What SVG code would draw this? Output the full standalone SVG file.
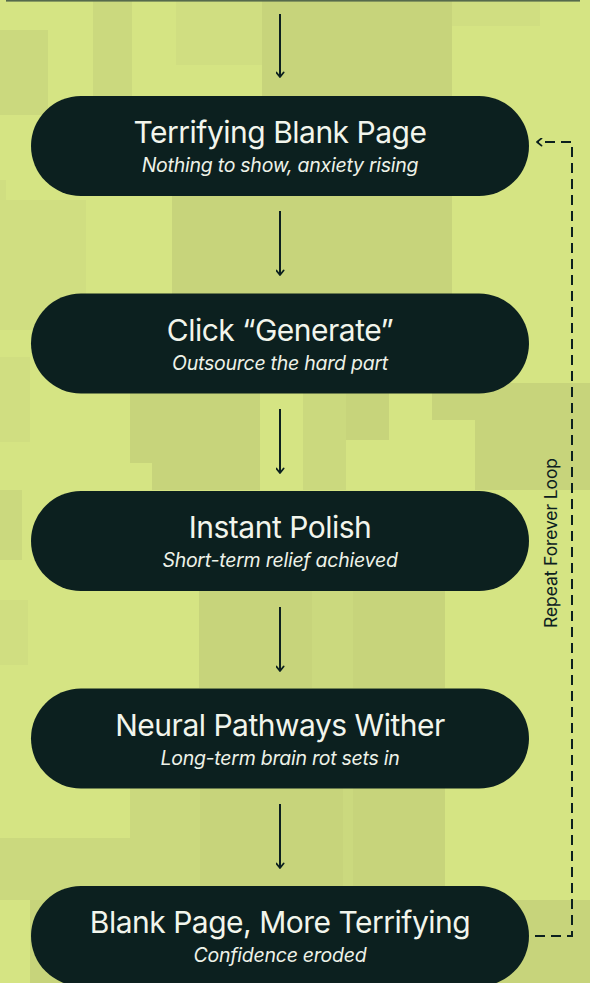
<svg xmlns="http://www.w3.org/2000/svg" width="590" height="983" viewBox="0 0 590 983">
  <style>
    .bg0 { fill: #d5e483; }
    .d1 { fill: #d0de81; }
    .d2 { fill: #cbd97e; }
    .d3 { fill: #c7d47b; }
    .pill { fill: #0c201f; }
    .title { font-family: Inter, "Noto Sans", "Liberation Sans", sans-serif; font-size: 30px; font-weight: 400; letter-spacing: -0.5px; fill: #f2f5ec; text-anchor: middle; }
    .sub { font-family: Inter, "Noto Sans", "Liberation Sans", sans-serif; font-size: 19.5px; font-style: italic; letter-spacing: -0.25px; fill: #eef2e8; text-anchor: middle; }
    .flow { stroke: #0c201f; stroke-width: 2; fill: none; }
    .loop { stroke: #0c201f; stroke-width: 2; fill: none; stroke-dasharray: 10 6; }
    .lbl { font-family: Inter, "Noto Sans", "Liberation Sans", sans-serif; font-size: 17.5px; letter-spacing: -0.1px; fill: #0c201f; text-anchor: middle; }
  </style>
  <defs>
    <marker id="ah" viewBox="0 0 10 10" refX="9" refY="5" markerWidth="9" markerHeight="9" markerUnits="userSpaceOnUse" orient="auto">
      <path d="M4,1 L9,5 L4,9" fill="none" stroke="#0c201f" stroke-width="2" stroke-linecap="round" stroke-linejoin="round"/>
    </marker>
  </defs>

  <g id="background">
    <rect class="bg0" x="0" y="0" width="590" height="983"/>
    <rect class="d2" x="93" y="0" width="39" height="107"/>
    <rect class="d1" x="176" y="0" width="86" height="65"/>
    <rect class="d1" x="452" y="0" width="88" height="26"/>
    <rect class="d3" x="262" y="0" width="190" height="300"/>
    <rect class="d2" x="0" y="30" width="48" height="85"/>
    <rect class="d1" x="0" y="180" width="6" height="45"/>
    <rect class="d1" x="0" y="200" width="86" height="130"/>
    <rect class="d3" x="172" y="196" width="90" height="110"/>
    <rect class="d1" x="0" y="357" width="30" height="85"/>
    <rect class="d3" x="130" y="393" width="130" height="70"/>
    <rect class="d3" x="152" y="393" width="108" height="97"/>
    <rect class="d2" x="303" y="393" width="43" height="97"/>
    <rect class="d3" x="346" y="393" width="43" height="47"/>
    <rect class="d3" x="432" y="383" width="158" height="37"/>
    <rect class="d3" x="475" y="420" width="115" height="70"/>
    <rect class="d2" x="0" y="490" width="22" height="70"/>
    <rect class="d3" x="199" y="591" width="113" height="97"/>
    <rect class="d2" x="312" y="591" width="41" height="97"/>
    <rect class="d3" x="353" y="591" width="92" height="97"/>
    <rect class="d1" x="0" y="600" width="28" height="65"/>
    <rect class="d3" x="200" y="788" width="143" height="112"/>
    <rect class="d3" x="353" y="788" width="92" height="112"/>
    <rect class="d2" x="343" y="788" width="10" height="112"/>
    <rect class="d2" x="0" y="838" width="200" height="62"/>
    <rect class="d2" x="130" y="788" width="70" height="50"/>
    <rect class="d3" x="30" y="900" width="560" height="83"/>
    <rect class="d3" x="445" y="920" width="145" height="63"/>
    <rect x="6" y="0" width="574" height="1.6" fill="#566a4c"/>
  </g>

  <g id="connectors">
    <line class="flow" x1="280" y1="14" x2="280" y2="77" marker-end="url(#ah)"/>
    <line class="flow" x1="280" y1="211" x2="280" y2="275" marker-end="url(#ah)"/>
    <line class="flow" x1="280" y1="409" x2="280" y2="473" marker-end="url(#ah)"/>
    <line class="flow" x1="280" y1="607" x2="280" y2="671" marker-end="url(#ah)"/>
    <line class="flow" x1="280" y1="804" x2="280" y2="868" marker-end="url(#ah)"/>
    <path class="loop" d="M535,936 H572 V142 H537" marker-end="url(#ah)"/>
    <text class="lbl" transform="translate(557,543) rotate(-90)">Repeat Forever Loop</text>
  </g>

  <g id="node1">
    <rect class="pill" x="31" y="96" width="498" height="100" rx="50"/>
    <text class="title" x="280" y="143">Terrifying Blank Page</text>
    <text class="sub" x="280" y="172">Nothing to show, anxiety rising</text>
  </g>
  <g id="node2">
    <rect class="pill" x="31" y="293.5" width="498" height="100" rx="50"/>
    <text class="title" x="280" y="340.5">Click “Generate”</text>
    <text class="sub" x="280" y="369.5">Outsource the hard part</text>
  </g>
  <g id="node3">
    <rect class="pill" x="31" y="491" width="498" height="100" rx="50"/>
    <text class="title" x="280" y="538">Instant Polish</text>
    <text class="sub" x="280" y="567">Short-term relief achieved</text>
  </g>
  <g id="node4">
    <rect class="pill" x="31" y="688.5" width="498" height="100" rx="50"/>
    <text class="title" x="280" y="735.5">Neural Pathways Wither</text>
    <text class="sub" x="280" y="764.5">Long-term brain rot sets in</text>
  </g>
  <g id="node5">
    <rect class="pill" x="31" y="886" width="498" height="100" rx="50"/>
    <text class="title" x="280" y="933">Blank Page, More Terrifying</text>
    <text class="sub" x="280" y="962">Confidence eroded</text>
  </g>
</svg>
